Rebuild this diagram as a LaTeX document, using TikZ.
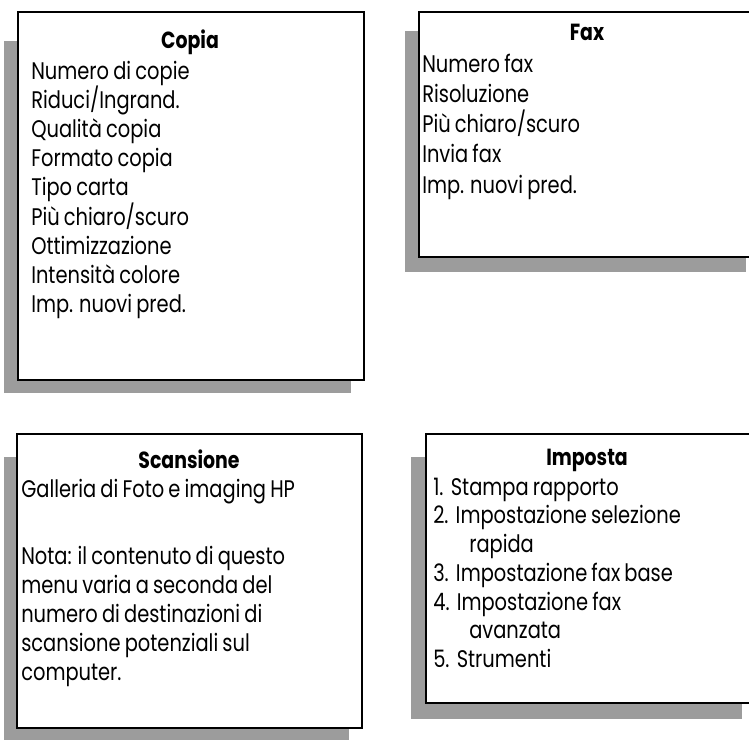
\documentclass[tikz,border=0pt]{standalone}
\usepackage{fontspec}
\setmainfont[FakeStretch=0.81, WordSpace=0.8]{Poppins}
\usepackage{xcolor}
\usepackage{tikz}
\usetikzlibrary{positioning}
\definecolor{shadowfill}{HTML}{9C9C9C}
\definecolor{boxline}{HTML}{000000}

\begin{document}
\begin{tikzpicture}[
    x=0.75pt, y=-0.75pt,
    shade/.style={fill=shadowfill, draw=none},
    menu/.style={draw=boxline, fill=white, line width=1.9pt},
    head/.style={font=\fontsize{17.5}{20}\selectfont\bfseries, anchor=base, inner sep=0pt},
    item/.style={font=\fontsize{18}{20}\selectfont, anchor=base west, inner sep=0pt}]

  \useasboundingbox (0,0) rectangle (749,740);
  \clip (0,0) rectangle (749,740);

  % Shadows first, the boxes lie on top.
  \fill[shade] (4,41) rectangle (351,393);
  \fill[shade] (405,31) rectangle (746,272);
  \fill[shade] (4,457) rectangle (349,740);
  \fill[shade] (411,457) rectangle (742,719);

  % The four menus.
  \draw[menu] (18,12) rectangle (364,380);
  \draw[menu] (419,12) rectangle (755,257);
  \draw[menu] (17,434) rectangle (362,728);
  \draw[menu] (426,434) rectangle (755,703);

  % Copia
  \node[head] (copia) at (190,48) {Copia};
  \foreach \t [count=\i from 0] in {Numero di copie, Riduci/Ingrand., Qualità copia,
      Formato copia, Tipo carta, Più chiaro/scuro, Ottimizzazione,
      Intensità colore, Imp. nuovi pred.}
    \node[item] (copia-\i) at (31,{79+29.2*\i}) {\t};

  % Fax
  \node[head] (fax) at (587,40) {Fax};
  \foreach \t [count=\i from 0] in {Numero fax, Risoluzione, Più chiaro/scuro,
      Invia fax, Imp. nuovi pred.}
    \node[item] (fax-\i) at (422,{72+30.3*\i}) {\t};

  % Scansione
  \node[head] (scan) at (189,468) {Scansione};
  \node[item] (scan-0) at (21,497) {Galleria di Foto e imaging HP};
  \foreach \t [count=\i from 1] in {Nota: il contenuto di questo,
      menu varia a seconda del, numero di destinazioni di,
      scansione potenziali sul, computer.}
    \node[item] (scan-\i) at (21,{536+28.8*\i}) {\t};

  % Imposta
  \node[head] (imp) at (587,465) {Imposta};
  \foreach \n/\t/\y in {1/Stampa rapporto/495, 2/Impostazione selezione/523,
      3/Impostazione fax base/581, 4/Impostazione fax/610, 5/Strumenti/667}
    \node[item] (imp-\n) at (433,\y) {\n.\hspace{0.3em}\t};
  \node[item] (imp-2b) at (469,552) {rapida};
  \node[item] (imp-4b) at (469,638) {avanzata};
\end{tikzpicture}
\end{document}
